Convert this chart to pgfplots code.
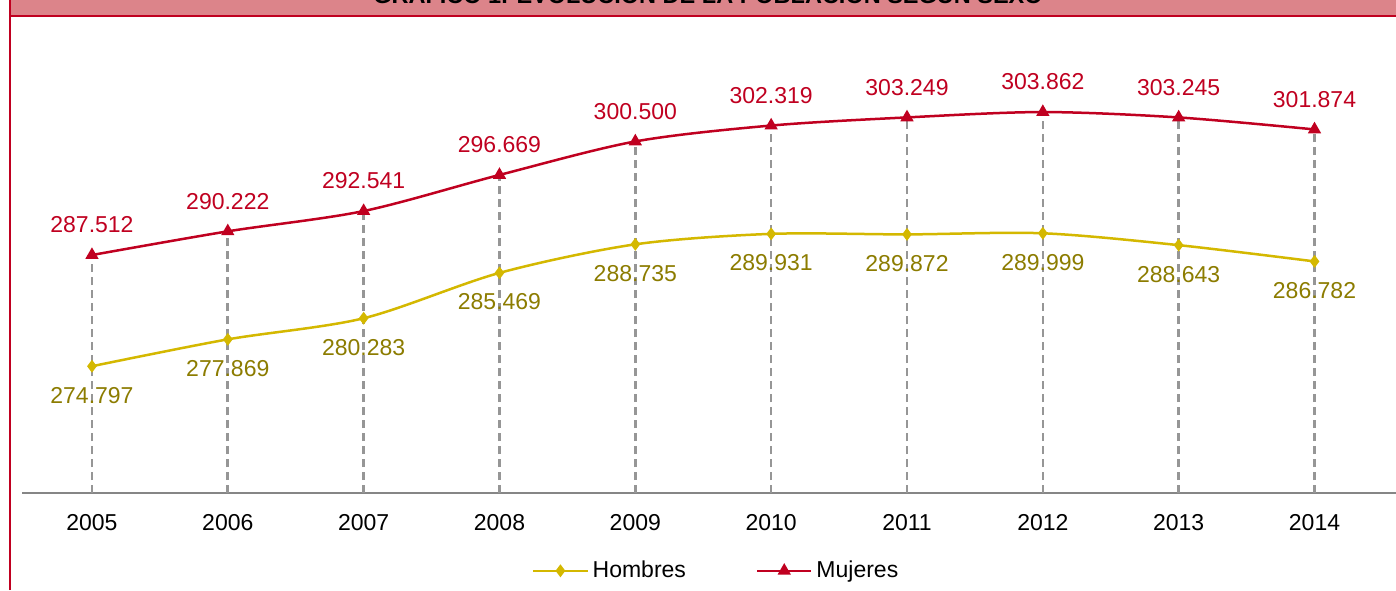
\documentclass[border=0pt]{standalone}
\usepackage{fontspec}
\setmainfont{Liberation Sans}
\usepackage{pgfplots}
\pgfplotsset{compat=1.18}

\definecolor{mujred}{RGB}{192,0,32}
\definecolor{hombyel}{RGB}{212,184,0}
\definecolor{hombtxt}{RGB}{140,124,0}
\definecolor{barpink}{RGB}{220,132,138}
\definecolor{dropgray}{RGB}{150,150,150}
\definecolor{axgray}{RGB}{134,134,134}

\begin{document}
\begin{tikzpicture}[x=1pt,y=1pt]
\useasboundingbox (0,0) rectangle (698,295);
\clip (0,0) rectangle (698,295);
\fill[white] (0,0) rectangle (698,295);
% title bar, cut off at the top
\fill[barpink] (5,287.5) rectangle (698,295);
\node[anchor=base, inner sep=0pt, font=\bfseries\fontsize{11.75}{13}\selectfont] at (354,293.3)
  {GRÁFICO 1. EVOLUCIÓN DE LA POBLACIÓN SEGÚN SEXO};
\draw[mujred, line width=1pt] (5,287) -- (698,287);
\draw[mujred, line width=1pt] (5,0) -- (5,295);

\begin{axis}[
  at={(11pt,48.5pt)}, anchor=south west,
  scale only axis, width=687pt, height=218.5pt,
  xmin=2004.485, xmax=2014.6,
  ymin=260.3, ymax=310.27,
  axis y line=none,
  axis x line*=bottom,
  x axis line style={-, draw=axgray, line width=1pt},
  xtick={2005,2006,2007,2008,2009,2010,2011,2012,2013,2014},
  xticklabels={2005,2006,2007,2008,2009,2010,2011,2012,2013,2014},
  major tick length=0pt,
  xticklabel style={yshift=-7pt},
  tick label style={font=\fontsize{11.5}{13}\selectfont},
  legend columns=2,
  legend style={draw=none, fill=none, at={(0.506,-0.178)}, anchor=center,
    font=\fontsize{11.5}{13}\selectfont,
    /tikz/every even column/.append style={column sep=33pt}},
  legend image code/.code={\draw[mark repeat=2,mark phase=2,#1]
    plot coordinates {(0pt,0pt) (13.5pt,0pt) (27pt,0pt)};},
]
% drop lines
\addplot[ycomb, draw=dropgray, line width=1.3pt, dash pattern=on 4pt off 2.5pt, forget plot]
  coordinates {(2005,287.512) (2006,290.222) (2007,292.541) (2008,296.669) (2009,300.500)
               (2010,302.319) (2011,303.249) (2012,303.862) (2013,303.245) (2014,301.874)};

\addplot[smooth, draw=hombyel, line width=1.25pt, mark=diamond*, mark size=2.2pt,
  mark options={fill=hombyel, draw=hombyel},
  point meta=explicit symbolic, nodes near coords,
  every node near coord/.append style={anchor=center, yshift=-14.5pt, text=hombtxt,
    font=\fontsize{11.5}{13}\selectfont}]
  coordinates {(2005,274.797)[274.797] (2006,277.869)[277.869] (2007,280.283)[280.283]
               (2008,285.469)[285.469] (2009,288.735)[288.735] (2010,289.931)[289.931]
               (2011,289.872)[289.872] (2012,289.999)[289.999] (2013,288.643)[288.643]
               (2014,286.782)[286.782]};
\addlegendentry{Hombres}

\addplot[smooth, draw=mujred, line width=1.25pt, mark=triangle*, mark size=2.6pt,
  mark options={fill=mujred, draw=mujred},
  point meta=explicit symbolic, nodes near coords,
  every node near coord/.append style={anchor=center, yshift=15pt, text=mujred,
    font=\fontsize{11.5}{13}\selectfont}]
  coordinates {(2005,287.512)[287.512] (2006,290.222)[290.222] (2007,292.541)[292.541]
               (2008,296.669)[296.669] (2009,300.500)[300.500] (2010,302.319)[302.319]
               (2011,303.249)[303.249] (2012,303.862)[303.862] (2013,303.245)[303.245]
               (2014,301.874)[301.874]};
\addlegendentry{Mujeres}
\end{axis}
\end{tikzpicture}
\end{document}
